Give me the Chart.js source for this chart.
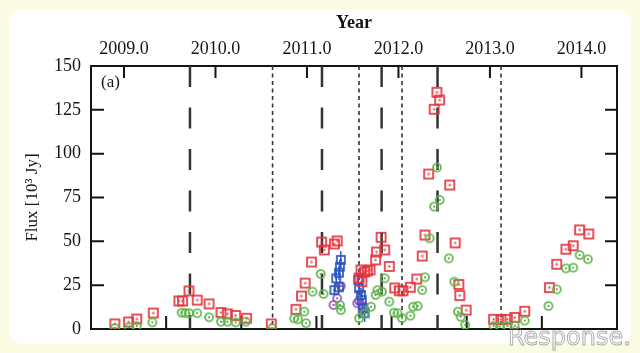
<!DOCTYPE html>
<html>
<head>
<meta charset="utf-8">
<script src="https://cdn.jsdelivr.net/npm/chart.js@4"></script>
<style>
  html, body { margin: 0; padding: 0; background: #fbfbe3; }
  #wrap { position: relative; width: 640px; height: 353px; overflow: hidden; }
  #panel { position: absolute; left: 9px; top: 9px; width: 622px; height: 335px; background: #fff; border-radius: 14px; }
  #chart { position: absolute; left: 0; top: 0; }
</style>
</head>
<body>
<div id="wrap"><div id="panel"></div><canvas id="chart" width="640" height="353"></canvas></div>
<script>
// axis ranges (bottom axis is MJD, top axis is decimal year)
const mjdMin = 54700;
const mjdMax = 56800;
const mjdTicks = [55000, 55300, 55600, 55900, 56200, 56500];
const yearTicks = [2009, 2010, 2011, 2012, 2013, 2014];
const fluxTicks = [0, 25, 50, 75, 100, 125, 150];

// vertical marker lines (year)
const longDashYears = [2009.721, 2011.164, 2011.816, 2012.427];
const shortDashYears = [2010.624, 2011.569, 2012.039, 2013.121];

// red squares
const redYears = [2008.90, 2009.05, 2009.14, 2009.32, 2009.60, 2009.64, 2009.71, 2009.80, 2009.93, 2010.06,
  2010.13, 2010.22, 2010.34, 2010.61, 2010.88, 2010.94, 2010.98, 2011.05, 2011.16, 2011.19,
  2011.30, 2011.33, 2011.57, 2011.59, 2011.60, 2011.63, 2011.66, 2011.69, 2011.75, 2011.76,
  2011.81, 2011.85, 2011.90, 2011.96, 2012.01, 2012.05, 2012.13, 2012.20, 2012.26, 2012.29,
  2012.33, 2012.39, 2012.42, 2012.45, 2012.56, 2012.62, 2012.66, 2012.67, 2012.74, 2013.04,
  2013.12, 2013.19, 2013.27, 2013.38, 2013.65, 2013.73, 2013.83, 2013.91, 2013.98, 2014.08];
const redFlux = [2.9, 4.0, 5.7, 9.1, 16.0, 16.0, 21.7, 16.5, 14.3, 9.4,
  8.6, 7.7, 6.1, 2.9, 11.2, 18.8, 26.2, 38.2, 49.6, 45.1,
  48.5, 50.2, 29.1, 33.7, 27.0, 32.5, 33.1, 33.7, 39.4, 43.9,
  52.3, 45.1, 35.7, 23.4, 21.8, 21.8, 23.8, 28.5, 41.6, 53.6,
  88.4, 125.3, 135.0, 130.6, 82.1, 49.1, 25.4, 19.1, 10.8, 5.5,
  5.4, 5.5, 6.6, 10.1, 23.6, 36.9, 45.5, 47.5, 56.5, 54.2];

// green circles
const greenYears = [2008.90, 2009.05, 2009.14, 2009.31, 2009.63, 2009.67, 2009.71, 2009.80, 2009.93, 2010.06,
  2010.13, 2010.22, 2010.33, 2010.62, 2010.86, 2010.90, 2010.97, 2010.99, 2011.06, 2011.15,
  2011.18, 2011.36, 2011.37, 2011.57, 2011.63, 2011.70, 2011.75, 2011.77, 2011.82, 2011.85,
  2011.90, 2011.95, 2011.99, 2012.04, 2012.13, 2012.16, 2012.21, 2012.26, 2012.29, 2012.34,
  2012.39, 2012.42, 2012.45, 2012.55, 2012.61, 2012.65, 2012.68, 2012.73, 2013.04, 2013.11,
  2013.19, 2013.27, 2013.38, 2013.64, 2013.73, 2013.83, 2013.91, 2013.98, 2014.07];
const greenFlux = [0.5, 1.0, 1.7, 3.8, 9.3, 9.1, 9.0, 9.0, 6.7, 4.2,
  4.2, 3.8, 4.2, 0.4, 6.1, 5.5, 9.9, 3.3, 21.3, 31.4,
  20.0, 13.7, 10.8, 6.1, 9.0, 12.7, 19.4, 22.2, 21.3, 28.9,
  15.6, 9.3, 9.0, 6.1, 7.6, 12.7, 13.1, 22.2, 29.5, 51.7,
  69.8, 92.1, 73.6, 40.3, 27.0, 9.9, 7.0, 2.3, 1.7, 1.4,
  1.7, 2.0, 4.8, 13.1, 22.6, 34.6, 35.0, 42.2, 39.8];

// blue squares with error bars
const blueYears = [2011.30, 2011.32, 2011.35, 2011.35, 2011.36, 2011.37, 2011.56, 2011.57, 2011.59, 2011.60, 2011.61, 2011.63];
const blueFlux = [22.2, 28.9, 23.8, 32.1, 35.5, 39.4, 28.0, 23.2, 19.4, 16.5, 11.8, 9.0];
const blueErr = [3, 4, 3, 4, 4, 5, 4, 3, 4, 4, 4, 5];

// purple circles
const purpleYears = [2011.29, 2011.33, 2011.37, 2011.55, 2011.57, 2011.61, 2011.63];
const purpleFlux = [13.7, 17.5, 24.5, 14.7, 16.1, 13.1, 11.2];

const mjdToYear = (m) => 2000 + (m - 51544.5) / 365.25;
const serif = "'Liberation Serif', 'DejaVu Serif', serif";
const ink = "#151515";

function marker(shape, color, size) {
  const c = document.createElement("canvas");
  c.width = size + 4;
  c.height = size + 4;
  const g = c.getContext("2d");
  const m = (size + 4) / 2;
  g.strokeStyle = color;
  g.fillStyle = color;
  g.lineWidth = 1.7;
  if (shape === "square") {
    g.strokeRect(m - size / 2, m - size / 2, size, size);
  } else {
    g.beginPath();
    g.arc(m, m, size / 2, 0, Math.PI * 2);
    g.stroke();
  }
  g.fillRect(m - 1, m - 1, 2, 2);
  return c;
}

const pts = (xs, ys) => xs.map((x, i) => ({ x: x, y: ys[i] }));

const decorations = {
  id: "decorations",
  beforeDatasetsDraw(chart) {
    const ctx = chart.ctx;
    const a = chart.chartArea;
    const x = chart.scales.x;
    const xb = chart.scales.xMjd;
    const y = chart.scales.y;
    ctx.save();
    // vertical marker lines
    ctx.strokeStyle = "#333";
    ctx.lineWidth = 2.5;
    ctx.setLineDash([21, 20.5]);
    longDashYears.forEach((v) => {
      const px = x.getPixelForValue(v);
      ctx.beginPath();
      ctx.moveTo(px, a.top);
      ctx.lineTo(px, a.bottom);
      ctx.stroke();
    });
    ctx.lineWidth = 1.6;
    ctx.setLineDash([4, 3.5]);
    shortDashYears.forEach((v) => {
      const px = x.getPixelForValue(v);
      ctx.beginPath();
      ctx.moveTo(px, a.top);
      ctx.lineTo(px, a.bottom);
      ctx.stroke();
    });
    ctx.setLineDash([]);
    // inward tick marks
    ctx.strokeStyle = ink;
    ctx.lineWidth = 2;
    ctx.beginPath();
    yearTicks.forEach((v) => {
      const px = x.getPixelForValue(v);
      ctx.moveTo(px, a.top);
      ctx.lineTo(px, a.top + 12);
    });
    mjdTicks.forEach((v) => {
      const px = xb.getPixelForValue(v);
      ctx.moveTo(px, a.bottom);
      ctx.lineTo(px, a.bottom - 13);
    });
    fluxTicks.forEach((v) => {
      const py = y.getPixelForValue(v);
      ctx.moveTo(a.left, py);
      ctx.lineTo(a.left + 13, py);
      ctx.moveTo(a.right, py);
      ctx.lineTo(a.right - 12, py);
    });
    ctx.stroke();
    // blue error bars
    ctx.strokeStyle = "#2a55c0";
    ctx.lineWidth = 1.5;
    ctx.beginPath();
    blueYears.forEach((v, i) => {
      const px = x.getPixelForValue(v);
      ctx.moveTo(px, y.getPixelForValue(blueFlux[i] - blueErr[i]));
      ctx.lineTo(px, y.getPixelForValue(blueFlux[i] + blueErr[i]));
    });
    ctx.stroke();
    ctx.restore();
  },
  afterDraw(chart) {
    const ctx = chart.ctx;
    const a = chart.chartArea;
    ctx.save();
    ctx.fillStyle = ink;
    ctx.font = "17px " + serif;
    ctx.textBaseline = "alphabetic";
    ctx.fillText("(a)", a.left + 10, a.top + 21);
    // faint watermark
    ctx.strokeStyle = "rgba(110,110,110,0.55)";
    ctx.lineWidth = 1;
    ctx.font = "24px 'DejaVu Sans', sans-serif";
    ctx.strokeText("Response.", 508, 345);
    ctx.restore();
  },
};

new Chart(document.getElementById("chart"), {
  type: "scatter",
  data: {
    datasets: [
      { label: "green", data: pts(greenYears, greenFlux), pointStyle: marker("circle", "#5db34a", 8) },
      { label: "red", data: pts(redYears, redFlux), pointStyle: marker("square", "#e5333d", 9) },
      { label: "blue", data: pts(blueYears, blueFlux), pointStyle: marker("square", "#2a55c0", 8) },
      { label: "purple", data: pts(purpleYears, purpleFlux), pointStyle: marker("circle", "#9a52b8", 8) },
    ],
  },
  options: {
    responsive: false,
    animation: false,
    events: [],
    layout: { padding: 0 },
    plugins: { legend: { display: false }, tooltip: { enabled: false } },
    scales: {
      x: {
        type: "linear",
        position: "top",
        min: mjdToYear(mjdMin),
        max: mjdToYear(mjdMax),
        afterBuildTicks: (s) => { s.ticks = yearTicks.map((v) => ({ value: v })); },
        afterFit: (s) => { s.height = 66; },
        grid: { display: false, drawTicks: false },
        border: { display: true, color: ink, width: 2 },
        ticks: { color: ink, padding: 6, maxRotation: 0, font: { family: serif, size: 18 }, callback: (v) => Number(v).toFixed(1) },
        title: { display: true, text: "Year", color: ink, padding: { top: 13, bottom: 0 }, font: { family: serif, size: 18, weight: "bold" } },
      },
      xMjd: {
        type: "linear",
        position: "bottom",
        min: mjdMin,
        max: mjdMax,
        afterBuildTicks: (s) => { s.ticks = mjdTicks.map((v) => ({ value: v })); },
        afterFit: (s) => { s.height = 24; },
        grid: { display: false, drawTicks: false },
        border: { display: true, color: ink, width: 2 },
        ticks: { display: false },
      },
      y: {
        type: "linear",
        position: "left",
        min: 0,
        max: 150,
        afterBuildTicks: (s) => { s.ticks = fluxTicks.map((v) => ({ value: v })); },
        afterFit: (s) => { s.width = 91; },
        grid: { display: false, drawTicks: false },
        border: { display: true, color: ink, width: 2 },
        ticks: { color: ink, padding: 10, font: { family: serif, size: 18 } },
        title: { display: true, text: "Flux [10³ Jy]", color: ink, padding: { top: 22, bottom: 0 }, font: { family: serif, size: 17 } },
      },
      yR: {
        type: "linear",
        position: "right",
        min: 0,
        max: 150,
        afterFit: (s) => { s.width = 23; },
        grid: { display: false, drawTicks: false },
        border: { display: true, color: ink, width: 2 },
        ticks: { display: false },
      },
    },
  },
  plugins: [decorations],
});
</script>
</body>
</html>
